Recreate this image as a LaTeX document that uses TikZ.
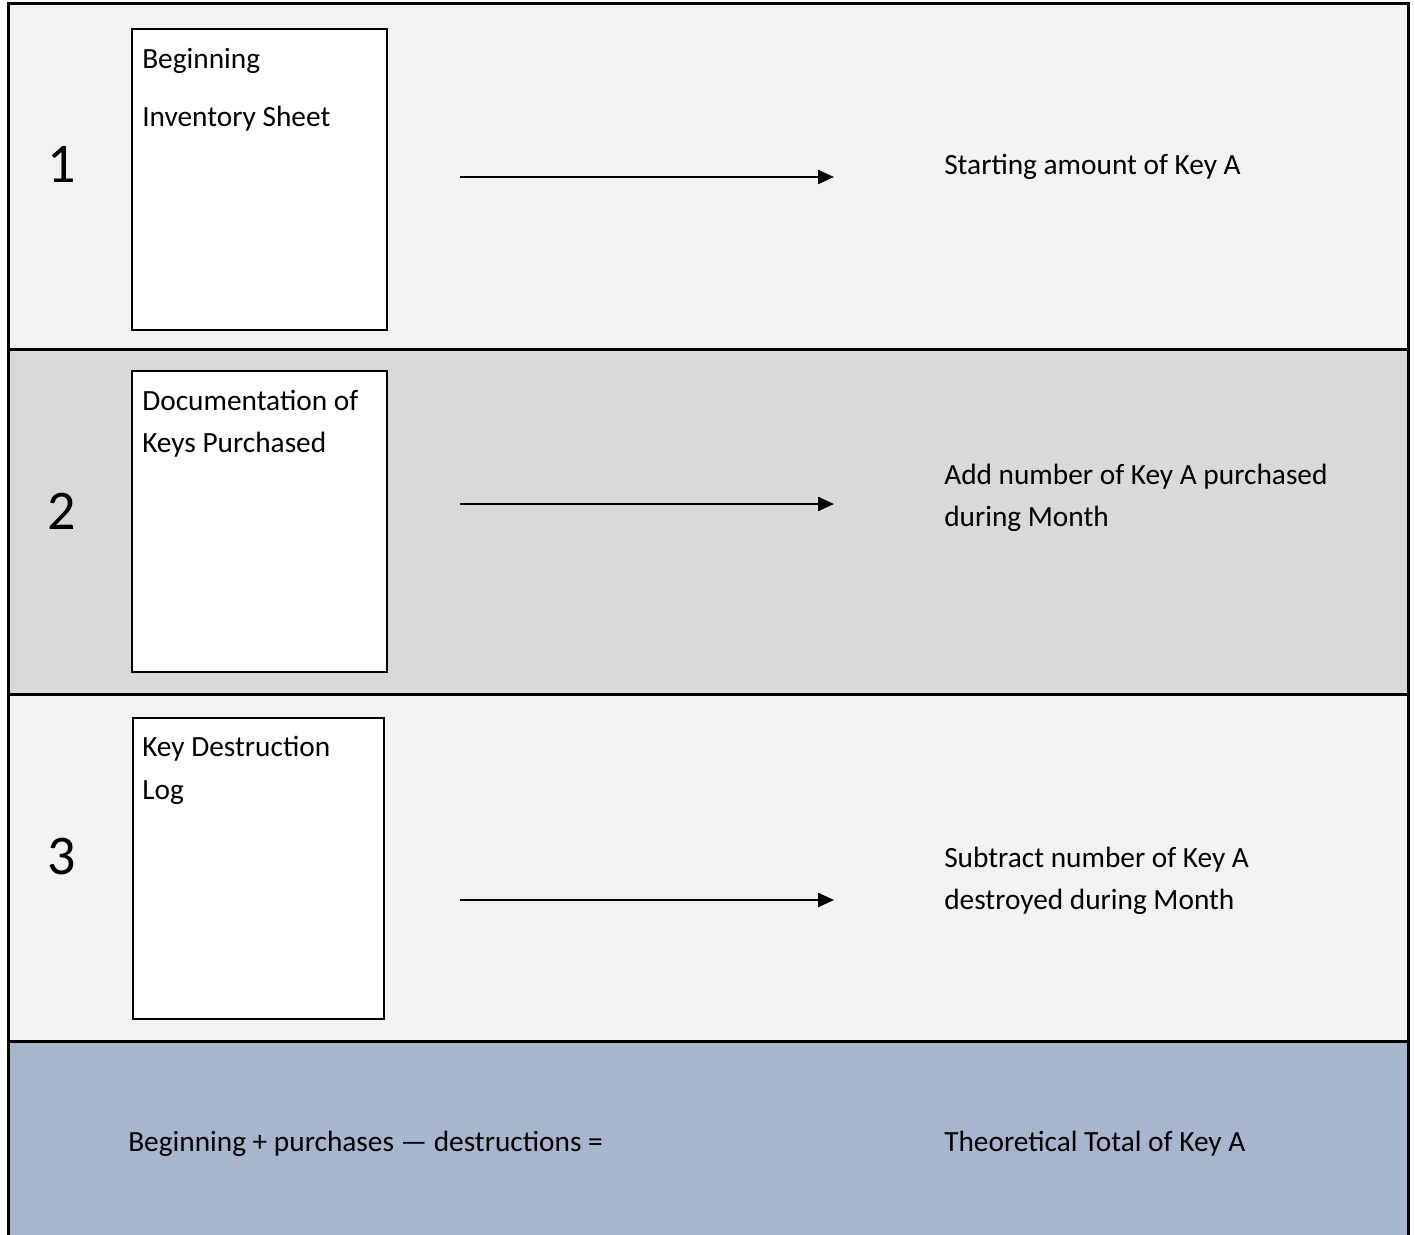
\documentclass[tikz,border=0pt]{standalone}
\usepackage{fontspec}
\setmainfont{Carlito}
\usetikzlibrary{arrows.meta}
\definecolor{bandlight}{HTML}{F2F2F2}
\definecolor{bandmid}{HTML}{D9D9D9}
\definecolor{bandblue}{HTML}{A7B6CC}
\tikzset{
  band/.style={draw=black, line width=2.25pt},
  sheet/.style={draw=black, line width=1.5pt, fill=white, inner sep=0pt},
  txt/.style={anchor=base west, inner sep=0pt, font=\fontsize{22}{26}\selectfont},
  num/.style={anchor=base, inner sep=0pt, font=\fontsize{42}{48}\selectfont},
  flow/.style={line width=1.8pt, -{Triangle[length=12pt,width=10.5pt]}}
}
\begin{document}
\begin{tikzpicture}[x=0.75pt,y=-0.75pt]
\useasboundingbox (0,0) rectangle (1415,1235);
% bands
\fill[bandlight] (8,3) rectangle (1408,349);
\fill[bandmid] (8,349) rectangle (1408,694);
\fill[bandlight] (8,694) rectangle (1408,1041);
\fill[bandblue] (8,1041) rectangle (1408,1240);
\draw[band] (8,1240) -- (8,3) -- (1408,3) -- (1408,1240);
\draw[band] (8,349) -- (1408,349);
\draw[band] (8,694) -- (1408,694);
\draw[band] (8,1041) -- (1408,1041);
% numbers
\node[num] (n1) at (62,182) {1};
\node[num] (n2) at (62,529) {2};
\node[num] (n3) at (62,874) {3};
% sheets
\draw[sheet] (132,29) rectangle (387,330);
\node[sheet, draw=none, fill=none] (s1) at (259.5,179.5) {};
\draw[sheet] (132,371) rectangle (387,672);
\node[sheet, draw=none, fill=none] (s2) at (259.5,521.5) {};
\draw[sheet] (133,718) rectangle (384,1019);
\node[sheet, draw=none, fill=none] (s3) at (258.5,868.5) {};
\node[txt] (t1a) at (142,68) {Beginning};
\node[txt] (t1b) at (142,126) {Inventory Sheet};
\node[txt] (t2a) at (142,410) {Documentation of};
\node[txt] (t2b) at (142,452) {Keys Purchased};
\node[txt] (t3a) at (142,756) {Key Destruction};
\node[txt] (t3b) at (142,799) {Log};
% arrows
\coordinate (a1s) at (460,177);
\coordinate (a1e) at (834,177);
\coordinate (a2s) at (460,504);
\coordinate (a2e) at (834,504);
\coordinate (a3s) at (460,900);
\coordinate (a3e) at (834,900);
\draw[flow] (a1s) -- (a1e);
\draw[flow] (a2s) -- (a2e);
\draw[flow] (a3s) -- (a3e);
% right texts
\node[txt] (r1) at (944,174) {Starting amount of Key A};
\node[txt] (r2a) at (944,484) {Add number of Key A purchased};
\node[txt] (r2b) at (944,526) {during Month};
\node[txt] (r3a) at (944,867) {Subtract number of Key A};
\node[txt] (r3b) at (944,909) {destroyed during Month};
\node[txt] (b1) at (128,1151) {Beginning + purchases — destructions =};
\node[txt] (b2) at (944,1151) {Theoretical Total of Key A};
\end{tikzpicture}
\end{document}
